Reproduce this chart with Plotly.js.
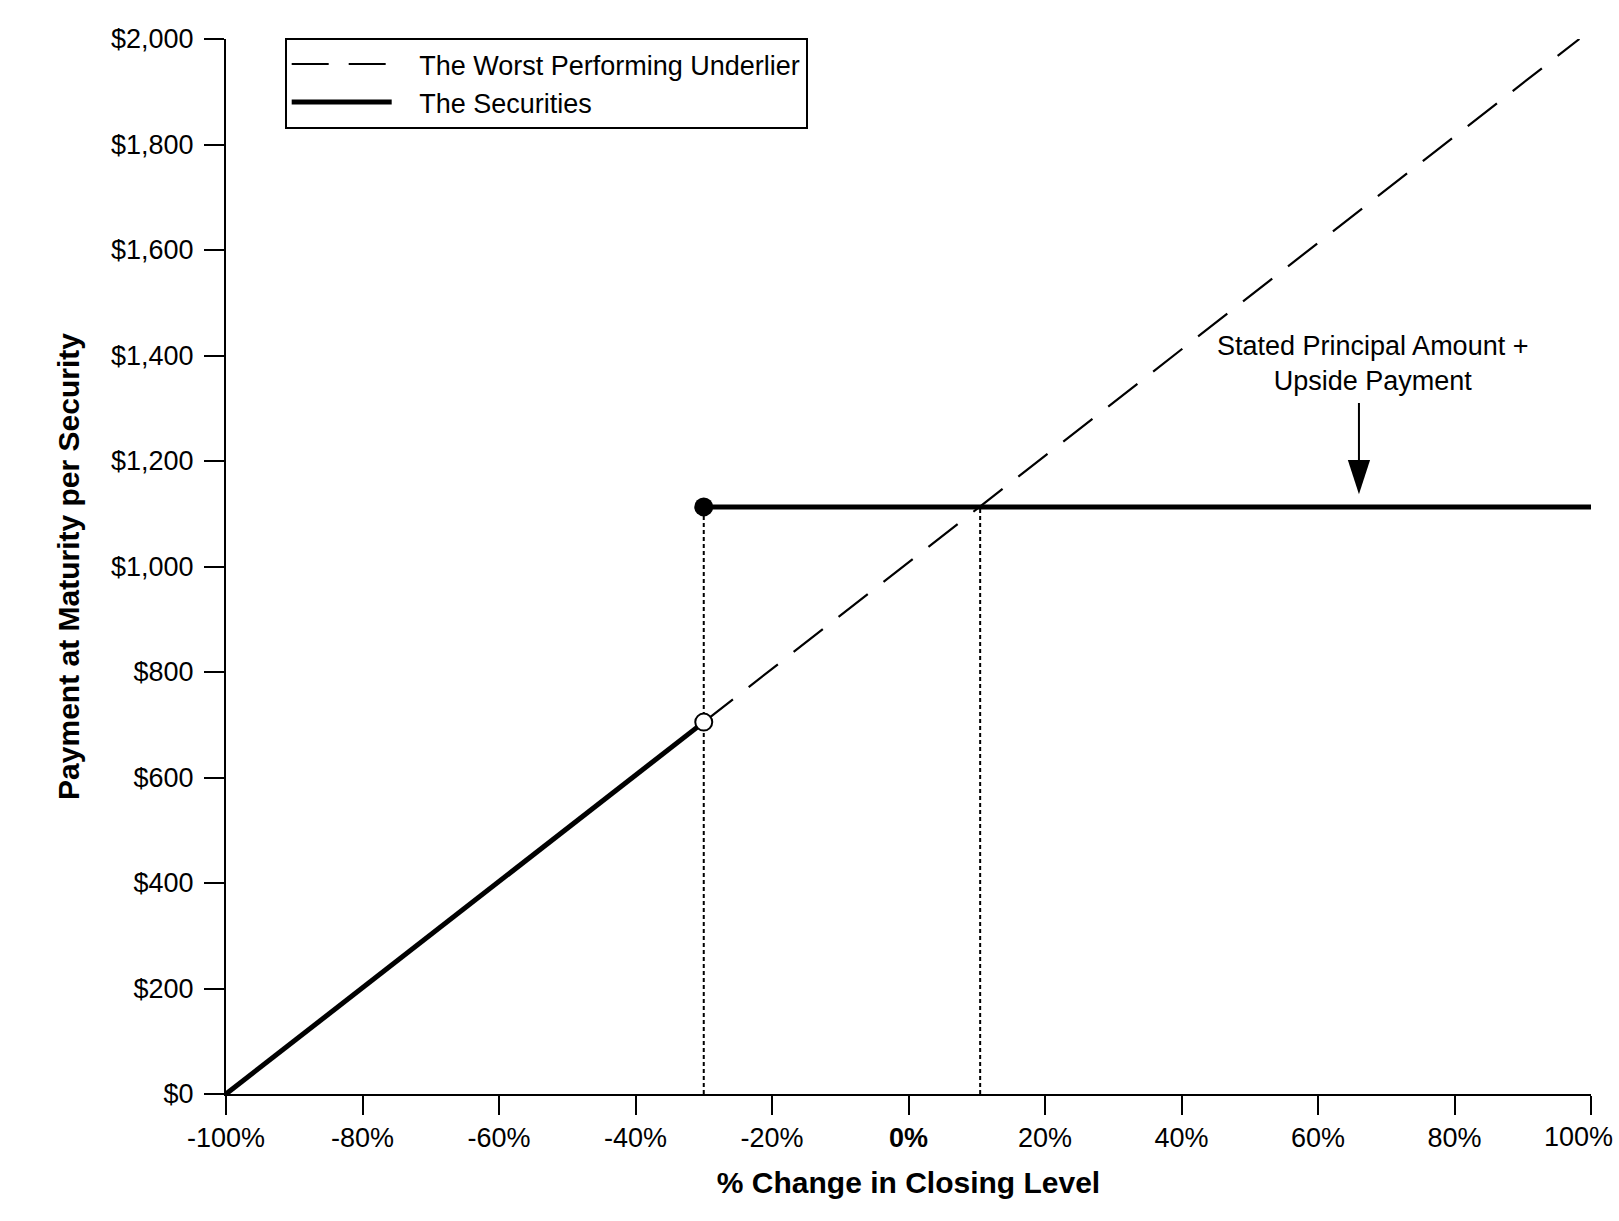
<!DOCTYPE html>
<html>
<head>
<meta charset="utf-8">
<script src="https://cdn.plot.ly/plotly-3.0.1.min.js"></script>
<style>
  html, body { margin: 0; padding: 0; background: #ffffff; }
  #chart { width: 1619px; height: 1221px; }
</style>
</head>
<body>
<div id="chart"></div>
<script>
// values
var underlierX = [-30, 98.3];
var underlierY = [705, 2000];

var downsideX = [-100, -30];
var downsideY = [0, 705];

var capX = [-30, 100];
var capY = [1113, 1113];

var thresholdX = -30;
var breakevenX = 10.5;
var upsidePayment = 1113;

var xTicks = [-100, -80, -60, -40, -20, 0, 20, 40, 60, 80, 100];
// the last label is drawn as an annotation so it can sit flush with the right edge
var xTickText = ['-100%', '-80%', '-60%', '-40%', '-20%', '<b>0%</b>', '20%', '40%', '60%', '80%', ''];
var lastTickLabel = '100%';
var yTicks = [0, 200, 400, 600, 800, 1000, 1200, 1400, 1600, 1800, 2000];
var yTickText = ['$0', '$200', '$400', '$600', '$800', '$1,000', '$1,200', '$1,400', '$1,600', '$1,800', '$2,000'];

var arrowX = 66;
var arrowTailY = 1313;
var arrowTipY = 1137;
var noteX = 68;
var noteText = 'Stated Principal Amount +<br>Upside Payment';

var fontFam = '"Liberation Sans", Arial, Helvetica, sans-serif';
var pad = '\u00a0\u00a0\u00a0';

var traces = [
    {
        x: underlierX, y: underlierY,
        name: pad + 'The Worst Performing Underlier',
        mode: 'lines',
        line: {color: '#000000', width: 2.2, dash: '37px,20px'}
    },
    {
        x: [thresholdX, thresholdX], y: [0, upsidePayment],
        mode: 'lines', showlegend: false,
        line: {color: '#000000', width: 2, dash: '4px,3px'}
    },
    {
        x: [breakevenX, breakevenX], y: [0, upsidePayment],
        mode: 'lines', showlegend: false,
        line: {color: '#000000', width: 2, dash: '4px,3px'}
    },
    {
        x: downsideX, y: downsideY,
        name: pad + 'The Securities',
        mode: 'lines',
        line: {color: '#000000', width: 5}
    },
    {
        x: capX, y: capY,
        mode: 'lines', showlegend: false, cliponaxis: false,
        line: {color: '#000000', width: 5}
    },
    {
        x: [capX[0]], y: [capY[0]],
        mode: 'markers', showlegend: false, cliponaxis: false,
        marker: {color: '#000000', size: 19}
    },
    {
        x: [downsideX[1]], y: [downsideY[1]],
        mode: 'markers', showlegend: false, cliponaxis: false,
        marker: {color: '#ffffff', size: 17, line: {color: '#000000', width: 2}}
    },
    {
        // arrow head of the upside payment callout
        x: [arrowX], y: [arrowTipY],
        mode: 'markers', showlegend: false, cliponaxis: false,
        marker: {symbol: 'arrow', angle: 180, size: 36, color: '#000000'}
    }
];

var layout = {
    width: 1619,
    height: 1221,
    margin: {l: 226, r: 28, t: 39, b: 127},
    paper_bgcolor: '#ffffff',
    plot_bgcolor: '#ffffff',
    font: {family: fontFam, color: '#000000', size: 27},
    showlegend: true,
    legend: {
        x: 0.043, y: 1.001, xanchor: 'left', yanchor: 'top',
        bgcolor: '#ffffff', bordercolor: '#000000', borderwidth: 2,
        font: {family: fontFam, size: 27},
        itemwidth: 100
    },
    xaxis: {
        range: [-100, 100],
        tickvals: xTicks, ticktext: xTickText,
        ticks: 'outside', ticklen: 19, tickwidth: 2, tickcolor: '#000000',
        showline: true, linewidth: 2, linecolor: '#000000',
        showgrid: false, zeroline: false,
        tickfont: {size: 27},
        title: {text: '<b>% Change in Closing Level</b>', font: {size: 30}, standoff: 20}
    },
    yaxis: {
        range: [0, 2000],
        tickvals: yTicks, ticktext: yTickText,
        ticks: 'outside', ticklen: 20, tickwidth: 2, tickcolor: '#000000',
        showline: true, linewidth: 2, linecolor: '#000000',
        showgrid: false, zeroline: false,
        ticklabelstandoff: 5,
        tickfont: {size: 27},
        title: {text: '<b>Payment at Maturity per Security</b>', font: {size: 30}, standoff: 23}
    },
    annotations: [
        {
            x: arrowX, y: arrowTipY, xref: 'x', yref: 'y',
            text: '', showarrow: true,
            axref: 'x', ayref: 'y', ax: arrowX, ay: arrowTailY,
            arrowhead: 0, arrowwidth: 2, arrowcolor: '#000000',
            standoff: 20
        },
        {
            x: noteX, y: arrowTailY, xref: 'x', yref: 'y',
            text: noteText, showarrow: false,
            yanchor: 'bottom', yshift: 3,
            font: {size: 27}
        },
        {
            x: xTicks[xTicks.length - 1], y: 0, xref: 'x', yref: 'paper',
            text: lastTickLabel, showarrow: false,
            xanchor: 'right', yanchor: 'middle',
            xshift: 24, yshift: -43,
            font: {size: 27}
        }
    ]
};

Plotly.newPlot('chart', traces, layout, {displayModeBar: false, staticPlot: true});
</script>
</body>
</html>
